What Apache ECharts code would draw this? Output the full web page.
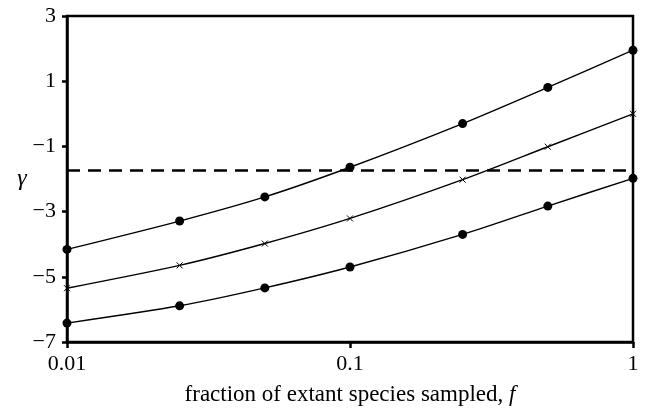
<!DOCTYPE html>
<html><head><meta charset="utf-8">
<script src="https://cdn.jsdelivr.net/npm/echarts@6/dist/echarts.min.js"></script>
<style>html,body{margin:0;padding:0;background:#fff}#c{width:647px;height:411px}</style>
</head><body><div id="c"></div>
<script>
const fractions = [0.01, 0.025, 0.05, 0.1, 0.25, 0.5, 1];
const upper = [-4.16, -3.29, -2.55, -1.64, -0.30, 0.81, 1.95];
const middle = [-5.35, -4.65, -3.98, -3.21, -2.02, -1.01, 0.0];
const lower = [-6.42, -5.89, -5.34, -4.70, -3.70, -2.83, -1.98];
const threshold = -1.73;

const pair = arr => fractions.map((f, i) => [f, arr[i]]);
const font = 'Liberation Serif';
const chart = echarts.init(document.getElementById('c'));
const lineSeries = (name, arr, symbol, size, style) => ({
  name, type: 'line', data: pair(arr), smooth: 0.25,
  symbol, symbolSize: size, showSymbol: true,
  lineStyle: { color: '#000', width: 1.4 },
  itemStyle: style, z: 3, animation: false
});
chart.setOption({
  animation: false,
  grid: { left: 67, right: 14, top: 16, bottom: 68, show: true, borderColor: '#000', borderWidth: 2.5, backgroundColor: 'transparent' },
  xAxis: {
    type: 'log', logBase: 10, min: 0.01, max: 1,
    name: '{a|fraction of extant species sampled, }{b|f}',
    nameLocation: 'middle', nameGap: 41,
    nameTextStyle: { rich: { a: { fontFamily: font, fontSize: 23, color: '#000' }, b: { fontFamily: font, fontSize: 23, fontStyle: 'italic', color: '#000' } } },
    axisLine: { onZero: false, lineStyle: { color: '#000', width: 2.5 } },
    axisTick: { show: true, length: 6, lineStyle: { color: '#000', width: 2.5 } },
    minorTick: { show: false },
    splitLine: { show: false },
    axisLabel: { fontFamily: font, fontSize: 22, color: '#000', margin: 11,
      formatter: v => (v === 0.01 ? '0.01' : v === 0.1 ? '0.1' : v === 1 ? '1' : String(v)) }
  },
  yAxis: {
    type: 'value', min: -7, max: 3, interval: 2,
    name: 'γ', nameLocation: 'middle', nameRotate: 0, nameGap: 40,
    nameTextStyle: { fontFamily: font, fontSize: 24, fontStyle: 'italic', color: '#000' },
    axisLine: { show: true, lineStyle: { color: '#000', width: 2.5 } },
    axisTick: { show: true, length: 5, lineStyle: { color: '#000', width: 2.5 } },
    splitLine: { show: false },
    axisLabel: { fontFamily: font, fontSize: 22, color: '#000', margin: 11,
      formatter: v => String(v).replace('-', '\u2212') }
  },
  series: [
    Object.assign(lineSeries('upper', upper, 'circle', 9, { color: '#000' }), {
      markLine: { silent: true, symbol: 'none', label: { show: false },
        lineStyle: { color: '#000', width: 2.5, type: [13, 8] },
        data: [{ yAxis: threshold }] }
    }),
    lineSeries('middle', middle, 'path://M0,0L10,10M10,0L0,10', 6, { color: 'none', borderColor: '#000', borderWidth: 1 }),
    lineSeries('lower', lower, 'circle', 9, { color: '#000' })
  ]
});
</script></body></html>
